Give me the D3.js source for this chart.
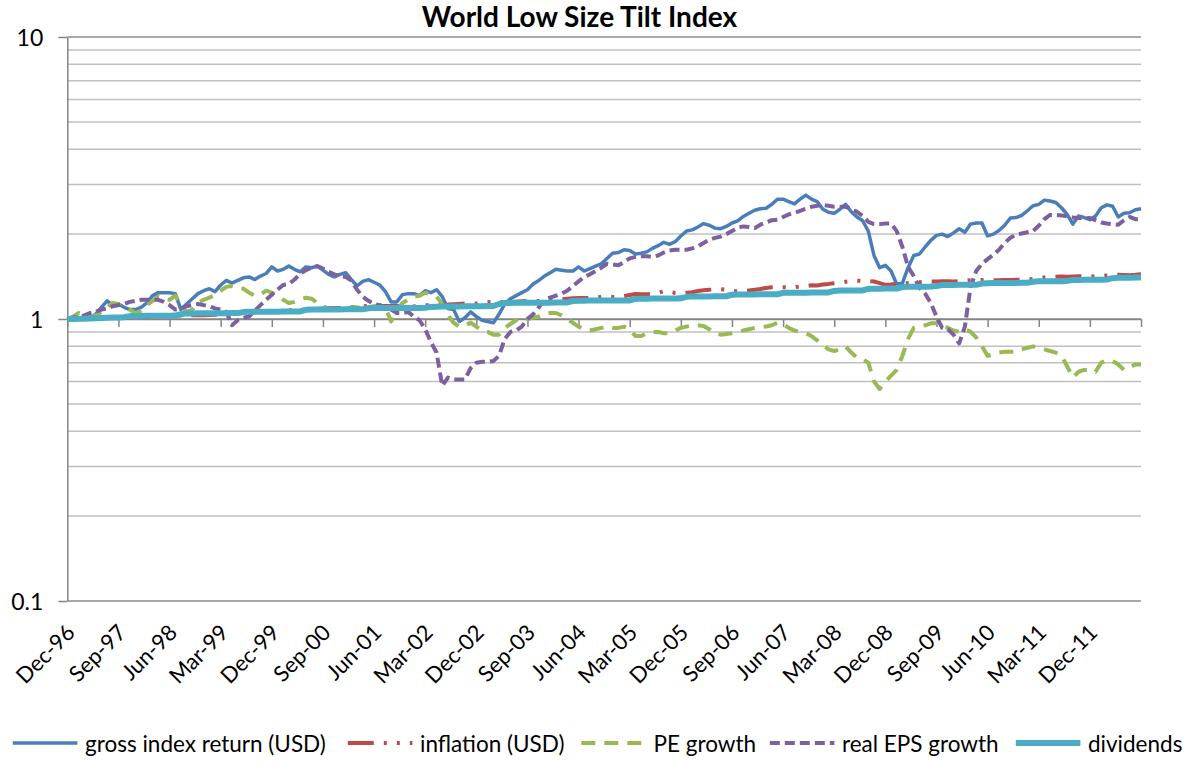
<!DOCTYPE html>
<html>
<head>
<meta charset="utf-8">
<script src="https://cdn.jsdelivr.net/npm/d3@7"></script>
<style>
  body { margin: 0; background: #fff; }
  #chart text { font-family: Lato, "Open Sans", sans-serif; fill: #000; }
</style>
</head>
<body>
<svg id="chart" width="1197" height="763"></svg>
<script>
'use strict';

/* monthly values, Dec-96 first, then one row per calendar year (2012 stops at Sep) */
const tickLabels = ['Dec-96', 'Sep-97', 'Jun-98', 'Mar-99', 'Dec-99', 'Sep-00', 'Jun-01',
    'Mar-02', 'Dec-02', 'Sep-03', 'Jun-04', 'Mar-05', 'Dec-05', 'Sep-06', 'Jun-07',
    'Mar-08', 'Dec-08', 'Sep-09', 'Jun-10', 'Mar-11', 'Dec-11'];

const grossReturn = [1.00,
    1.00, 1.00, 1.01, 1.01, 1.04, 1.10, 1.16, 1.12, 1.13, 1.10, 1.08, 1.08,
    1.10, 1.14, 1.21, 1.24, 1.24, 1.24, 1.23, 1.08, 1.13, 1.18, 1.23, 1.26,
    1.28, 1.25, 1.32, 1.37, 1.34, 1.37, 1.40, 1.41, 1.38, 1.42, 1.45, 1.53,
    1.48, 1.50, 1.54, 1.50, 1.47, 1.53, 1.52, 1.54, 1.49, 1.44, 1.41, 1.44,
    1.46, 1.38, 1.31, 1.36, 1.38, 1.35, 1.32, 1.25, 1.15, 1.15, 1.22, 1.23,
    1.23, 1.21, 1.26, 1.24, 1.27, 1.20, 1.09, 1.08, 0.98, 1.01, 1.06, 1.02,
    0.99, 0.98, 0.97, 1.04, 1.13, 1.18, 1.21, 1.24, 1.27, 1.33, 1.37, 1.42,
    1.46, 1.50, 1.49, 1.48, 1.48, 1.53, 1.48, 1.51, 1.54, 1.57, 1.64, 1.71,
    1.72, 1.76, 1.75, 1.70, 1.71, 1.73, 1.78, 1.82, 1.87, 1.84, 1.88, 1.97,
    2.05, 2.07, 2.12, 2.18, 2.15, 2.10, 2.09, 2.13, 2.19, 2.23, 2.31, 2.37,
    2.43, 2.46, 2.47, 2.55, 2.66, 2.66, 2.61, 2.56, 2.66, 2.75, 2.66, 2.61,
    2.45, 2.39, 2.37, 2.45, 2.55, 2.40, 2.30, 2.23, 2.05, 1.68, 1.52, 1.55,
    1.48, 1.33, 1.34, 1.52, 1.68, 1.70, 1.80, 1.90, 1.98, 2.00, 1.96, 2.02,
    2.09, 2.03, 2.17, 2.19, 2.19, 1.97, 2.00, 2.06, 2.15, 2.28, 2.29, 2.33,
    2.42, 2.52, 2.55, 2.64, 2.62, 2.59, 2.48, 2.35, 2.17, 2.32, 2.29, 2.25,
    2.32, 2.48, 2.54, 2.51, 2.30, 2.37, 2.38, 2.44, 2.46];

const inflation = [1.000,
    1.003, 1.006, 1.007, 1.007, 1.008, 1.009, 1.011, 1.013, 1.015, 1.017, 1.017, 1.016,
    1.018, 1.019, 1.021, 1.023, 1.024, 1.026, 1.027, 1.028, 1.030, 1.032, 1.032, 1.032,
    1.034, 1.036, 1.040, 1.047, 1.047, 1.047, 1.050, 1.052, 1.056, 1.058, 1.059, 1.059,
    1.062, 1.066, 1.073, 1.074, 1.075, 1.082, 1.084, 1.085, 1.090, 1.092, 1.093, 1.093,
    1.098, 1.102, 1.106, 1.110, 1.113, 1.115, 1.113, 1.111, 1.113, 1.111, 1.108, 1.104,
    1.108, 1.111, 1.117, 1.122, 1.122, 1.123, 1.125, 1.129, 1.131, 1.134, 1.136, 1.134,
    1.140, 1.146, 1.150, 1.148, 1.147, 1.149, 1.152, 1.155, 1.158, 1.160, 1.158, 1.157,
    1.163, 1.168, 1.174, 1.180, 1.184, 1.188, 1.186, 1.188, 1.190, 1.198, 1.204, 1.198,
    1.200, 1.207, 1.216, 1.226, 1.225, 1.223, 1.227, 1.237, 1.254, 1.249, 1.237, 1.233,
    1.239, 1.245, 1.256, 1.265, 1.270, 1.273, 1.276, 1.272, 1.259, 1.252, 1.256, 1.262,
    1.269, 1.278, 1.289, 1.295, 1.299, 1.297, 1.294, 1.297, 1.304, 1.307, 1.317, 1.315,
    1.326, 1.332, 1.340, 1.347, 1.355, 1.362, 1.368, 1.365, 1.362, 1.358, 1.340, 1.322,
    1.325, 1.333, 1.338, 1.341, 1.347, 1.349, 1.357, 1.357, 1.358, 1.361, 1.362, 1.359,
    1.363, 1.366, 1.373, 1.374, 1.374, 1.372, 1.371, 1.373, 1.375, 1.376, 1.378, 1.378,
    1.382, 1.388, 1.396, 1.403, 1.409, 1.412, 1.414, 1.411, 1.414, 1.418, 1.419, 1.417,
    1.415, 1.420, 1.426, 1.432, 1.435, 1.433, 1.430, 1.434, 1.440];

const peGrowth = [1.00,
    1.02, 1.05, 1.03, 1.02, 1.03, 1.06, 1.10, 1.14, 1.13, 1.10, 1.08, 1.05,
    1.07, 1.12, 1.16, 1.20, 1.18, 1.17, 1.21, 1.13, 1.06, 1.08, 1.14, 1.17,
    1.19, 1.22, 1.26, 1.30, 1.31, 1.30, 1.28, 1.24, 1.21, 1.22, 1.26, 1.24,
    1.21, 1.17, 1.14, 1.15, 1.17, 1.19, 1.18, 1.14, 1.11, 1.09, 1.08, 1.08,
    1.08, 1.10, 1.10, 1.09, 1.10, 1.11, 1.12, 1.10, 0.98, 1.08, 1.14, 1.17,
    1.20, 1.21, 1.24, 1.22, 1.20, 1.13, 1.03, 0.97, 0.94, 0.95, 0.97, 0.94,
    0.91, 0.90, 0.88, 0.88, 0.93, 0.96, 0.99, 1.01, 1.00, 1.01, 1.02, 1.04,
    1.05, 1.05, 1.03, 1.00, 0.97, 0.94, 0.92, 0.91, 0.92, 0.93, 0.94, 0.93,
    0.93, 0.94, 0.92, 0.87, 0.87, 0.89, 0.90, 0.90, 0.89, 0.89, 0.91, 0.93,
    0.94, 0.95, 0.95, 0.945, 0.92, 0.89, 0.88, 0.885, 0.89, 0.90, 0.91, 0.92,
    0.93, 0.935, 0.94, 0.95, 0.97, 0.96, 0.93, 0.91, 0.90, 0.89, 0.87, 0.84,
    0.81, 0.78, 0.77, 0.78, 0.80, 0.76, 0.73, 0.72, 0.70, 0.60, 0.565, 0.60,
    0.63, 0.66, 0.74, 0.85, 0.93, 0.94, 0.95, 0.965, 0.965, 0.95, 0.93, 0.91,
    0.90, 0.92, 0.90, 0.86, 0.80, 0.74, 0.75, 0.76, 0.765, 0.765, 0.765, 0.78,
    0.79, 0.80, 0.79, 0.78, 0.77, 0.76, 0.74, 0.68, 0.62, 0.65, 0.66, 0.66,
    0.65, 0.70, 0.715, 0.71, 0.69, 0.66, 0.675, 0.69, 0.69];

const realEpsGrowth = [1.00,
    1.01, 1.02, 1.03, 1.05, 1.06, 1.08, 1.09, 1.11, 1.12, 1.13, 1.15, 1.16,
    1.17, 1.17, 1.17, 1.17, 1.15, 1.12, 1.08, 1.09, 1.11, 1.12, 1.13, 1.12,
    1.11, 1.09, 1.08, 1.06, 0.95, 0.99, 1.01, 1.02, 1.07, 1.12, 1.17, 1.22,
    1.27, 1.32, 1.33, 1.38, 1.45, 1.49, 1.52, 1.54, 1.51, 1.47, 1.44, 1.42,
    1.41, 1.37, 1.27, 1.20, 1.16, 1.13, 1.12, 1.10, 1.08, 1.05, 1.05, 1.06,
    1.02, 0.99, 0.92, 0.83, 0.76, 0.58, 0.62, 0.61, 0.61, 0.61, 0.67, 0.70,
    0.705, 0.705, 0.71, 0.74, 0.85, 0.90, 0.91, 0.94, 1.00, 1.04, 1.10, 1.17,
    1.19, 1.21, 1.23, 1.26, 1.31, 1.36, 1.41, 1.44, 1.48, 1.52, 1.57, 1.56,
    1.55, 1.59, 1.64, 1.66, 1.67, 1.67, 1.66, 1.68, 1.72, 1.75, 1.76, 1.76,
    1.76, 1.78, 1.81, 1.86, 1.91, 1.94, 1.96, 2.00, 2.05, 2.11, 2.13, 2.12,
    2.10, 2.16, 2.20, 2.24, 2.25, 2.30, 2.35, 2.38, 2.42, 2.46, 2.50, 2.52,
    2.54, 2.52, 2.50, 2.50, 2.50, 2.46, 2.40, 2.32, 2.21, 2.17, 2.17, 2.18,
    2.18, 2.05, 1.80, 1.53, 1.42, 1.29, 1.23, 1.14, 1.02, 0.93, 0.92, 0.88,
    0.82, 0.94, 1.30, 1.48, 1.57, 1.63, 1.69, 1.76, 1.86, 1.94, 1.99, 2.01,
    2.03, 2.05, 2.14, 2.26, 2.34, 2.34, 2.33, 2.31, 2.29, 2.28, 2.28, 2.28,
    2.24, 2.20, 2.18, 2.17, 2.16, 2.24, 2.30, 2.26, 2.26];

const dividends = [1.000,
    1.001, 1.002, 1.003, 1.004, 1.006, 1.008, 1.010, 1.012, 1.013, 1.015, 1.024, 1.025,
    1.025, 1.026, 1.026, 1.026, 1.027, 1.027, 1.028, 1.040, 1.047, 1.047, 1.048, 1.048,
    1.048, 1.049, 1.049, 1.049, 1.050, 1.050, 1.058, 1.061, 1.061, 1.061, 1.062, 1.062,
    1.062, 1.063, 1.063, 1.063, 1.064, 1.078, 1.080, 1.080, 1.080, 1.081, 1.081, 1.081,
    1.082, 1.082, 1.082, 1.083, 1.092, 1.093, 1.093, 1.093, 1.094, 1.094, 1.094, 1.095,
    1.095, 1.095, 1.096, 1.104, 1.106, 1.107, 1.107, 1.108, 1.108, 1.109, 1.109, 1.110,
    1.110, 1.111, 1.112, 1.130, 1.140, 1.140, 1.141, 1.141, 1.142, 1.142, 1.142, 1.143,
    1.143, 1.144, 1.144, 1.145, 1.158, 1.161, 1.161, 1.162, 1.162, 1.162, 1.163, 1.163,
    1.164, 1.164, 1.164, 1.178, 1.181, 1.181, 1.182, 1.182, 1.182, 1.183, 1.183, 1.184,
    1.199, 1.201, 1.201, 1.202, 1.202, 1.203, 1.203, 1.204, 1.219, 1.221, 1.221, 1.222,
    1.222, 1.223, 1.223, 1.224, 1.224, 1.238, 1.239, 1.239, 1.240, 1.240, 1.241, 1.241,
    1.242, 1.242, 1.258, 1.261, 1.261, 1.262, 1.262, 1.263, 1.279, 1.281, 1.281, 1.282,
    1.282, 1.283, 1.298, 1.301, 1.301, 1.302, 1.302, 1.303, 1.310, 1.320, 1.321, 1.321,
    1.322, 1.322, 1.323, 1.323, 1.335, 1.340, 1.341, 1.341, 1.342, 1.342, 1.343, 1.344,
    1.345, 1.356, 1.360, 1.360, 1.361, 1.361, 1.362, 1.365, 1.374, 1.376, 1.377, 1.377,
    1.378, 1.379, 1.381, 1.396, 1.400, 1.401, 1.401, 1.402, 1.402];

const seriesNames = ['gross index return (USD)', 'inflation (USD)', 'PE growth',
    'real EPS growth', 'dividends'];

/* plot box measured on the original Excel chart */
const plotLeft = 67.3;
const plotRight = 1141;
const plotTop = 37;
const plotBottom = 601;
const labelInterval = 9;

/* where each legend entry's text starts, as in the Excel layout */
const legendTextX = [85, 420, 653.5, 842, 1088];

const series = [
    { name: seriesNames[0], values: grossReturn, color: '#4a7ebb', width: 3.5, dash: null },
    { name: seriesNames[1], values: inflation, color: '#be4b48', width: 4, dash: '26,10,3,10,3,10' },
    { name: seriesNames[2], values: peGrowth, color: '#98b954', width: 4, dash: '14,9' },
    { name: seriesNames[3], values: realEpsGrowth, color: '#7d60a0', width: 4, dash: '10,5' },
    { name: seriesNames[4], values: dividends, color: '#4bacc6', width: 6, dash: null }
];

const svg = d3.select('#chart');

function getXScale() {
    return d3.scaleLinear()
        .domain([0, grossReturn.length - 1])
        .range([plotLeft, plotRight]);
}

function getYScale() {
    return d3.scaleLog()
        .domain([0.1, 10])
        .range([plotBottom, plotTop]);
}

function isDecade(value) {
    const exponent = Math.log10(value);
    return Math.abs(exponent - Math.round(exponent)) < 1e-6;
}

function renderGrid(yScale) {
    svg.append('g')
        .attr('class', 'grid')
        .selectAll('line')
        .data(yScale.ticks())
        .join('line')
        .attr('x1', plotLeft)
        .attr('x2', plotRight)
        .attr('y1', d => yScale(d))
        .attr('y2', d => yScale(d))
        .attr('stroke', d => isDecade(d) ? '#8c8c8c' : '#c0c0c0')
        .attr('stroke-width', 1.5);
}

function renderYAxis(yScale) {
    const yAxis = d3.axisLeft(yScale)
        .tickValues([0.1, 1, 10])
        .tickFormat(d => String(d))
        .tickSize(9)
        .tickSizeOuter(0)
        .tickPadding(15);

    svg.append('g')
        .attr('id', 'y-axis')
        .attr('transform', `translate(${plotLeft}, 0)`)
        .call(yAxis)
        .call(g => g.selectAll('path, line').attr('stroke', '#868686').attr('stroke-width', 1.5))
        .call(g => g.selectAll('text').style('font-size', '23px').attr('dy', '0.36em'));
}

function renderXAxis(xScale, yScale) {
    const xAxis = d3.axisBottom(xScale)
        .tickValues(d3.range(0, grossReturn.length, labelInterval))
        .tickFormat('')
        .tickSize(8)
        .tickSizeOuter(0);

    svg.append('g')
        .attr('id', 'x-axis')
        .attr('transform', `translate(0, ${yScale(1)})`)
        .call(xAxis)
        .call(g => g.selectAll('path, line').attr('stroke', '#868686').attr('stroke-width', 1.5));

    // Excel keeps the category labels at the bottom of the plot, not at the crossing
    svg.append('g')
        .attr('class', 'x-labels')
        .selectAll('text')
        .data(tickLabels)
        .join('text')
        .attr('text-anchor', 'end')
        .style('font-size', '22px')
        .attr('transform', (_, i) =>
            `translate(${xScale(i * labelInterval) + 9}, ${plotBottom + 33}) rotate(-45)`)
        .text(d => d);
}

function renderLines(xScale, yScale) {
    const line = d3.line()
        .x((_, i) => xScale(i))
        .y(d => yScale(d));

    svg.append('g')
        .attr('class', 'lines')
        .selectAll('path')
        .data(series)
        .join('path')
        .attr('d', d => line(d.values))
        .attr('fill', 'none')
        .attr('stroke', d => d.color)
        .attr('stroke-width', d => d.width)
        .attr('stroke-dasharray', d => d.dash)
        .attr('stroke-linejoin', 'round');
}

function renderTitle() {
    svg.append('text')
        .attr('x', 579.5)
        .attr('y', 27)
        .attr('text-anchor', 'middle')
        .style('font-size', '28px')
        .style('font-weight', 'bold')
        .text('World Low Size Tilt Index');
}

function renderLegend() {
    const legendY = 743;
    const sampleLength = 64.6;
    const textGap = 7.6;

    const items = svg.append('g')
        .attr('class', 'legend')
        .selectAll('g')
        .data(series)
        .join('g')
        .attr('transform', (_, i) => `translate(${legendTextX[i]}, ${legendY})`);

    items.append('line')
        .attr('x1', -textGap - sampleLength)
        .attr('x2', -textGap)
        .attr('stroke', d => d.color)
        .attr('stroke-width', d => d.width)
        .attr('stroke-dasharray', d => d.dash);

    items.append('text')
        .attr('y', 9)
        .style('font-size', '22.5px')
        .text(d => d.name);
}

const xScale = getXScale();
const yScale = getYScale();

renderGrid(yScale);
renderYAxis(yScale);
renderXAxis(xScale, yScale);
renderLines(xScale, yScale);
renderTitle();
renderLegend();
</script>
</body>
</html>
